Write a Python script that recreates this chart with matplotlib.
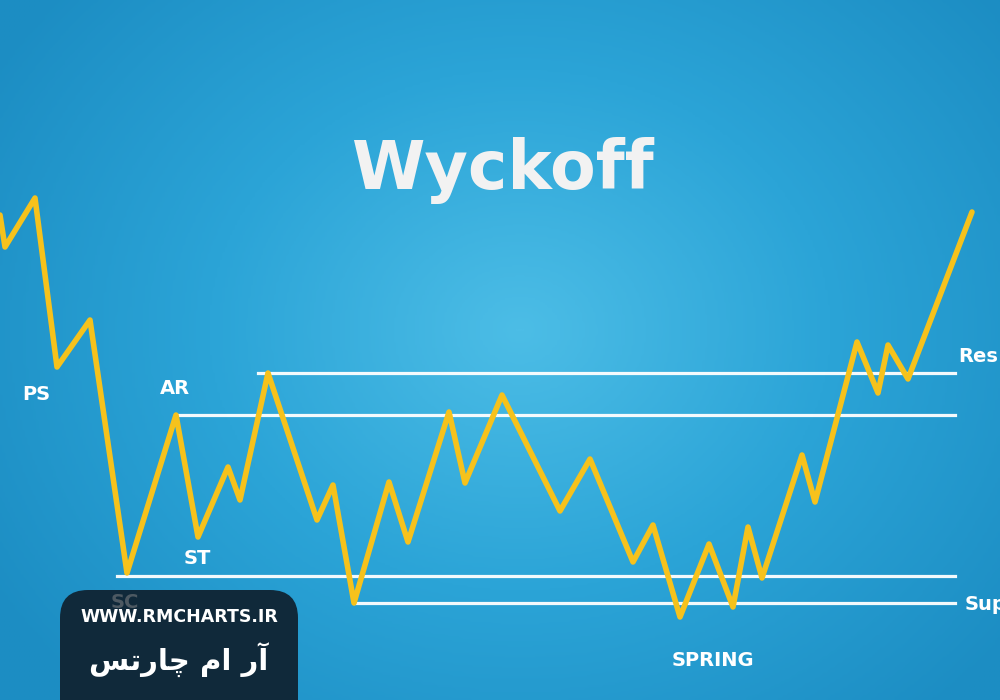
import numpy as np
import matplotlib.pyplot as plt
from matplotlib.patches import FancyBboxPatch
from matplotlib.colors import LinearSegmentedColormap

# price path (picture coordinates, y grows downward)
price_x = [0, 5, 35, 57, 90, 127, 176, 198, 228, 240, 268, 317, 333, 354, 389, 408,
           449, 465, 502, 560, 590, 633, 653, 680, 709, 733, 748, 762, 802, 815,
           857, 878, 888, 908, 972]
price_y = [215, 247, 198, 367, 320, 573, 415, 537, 467, 500, 373, 520, 485, 603, 482, 542,
           412, 483, 395, 511, 459, 562, 525, 617, 544, 607, 527, 578, 455, 502,
           342, 393, 345, 379, 212]

# horizontal levels: y, start x, end x
level_y = [373, 415, 576, 603]
level_x0 = [258, 178, 117, 355]
level_x1 = [955, 955, 955, 955]

labels = ['PS', 'AR', 'ST', 'SPRING']
label_x = [36, 175, 197, 713]
label_y = [395, 388, 558, 660]

fig = plt.figure(figsize=(10, 7), dpi=100)
ax = fig.add_axes([0, 0, 1, 1])
ax.set_xlim(0, 1000)
ax.set_ylim(700, 0)
ax.axis('off')

# radial background
gx, gy = np.meshgrid(np.linspace(0, 1000, 400), np.linspace(0, 700, 280))
r = np.sqrt(((gx - 520) / 620) ** 2 + ((gy - 330) / 520) ** 2)
cmap = LinearSegmentedColormap.from_list('bg', ['#4cbde6', '#2ba4d7', '#1c8dc3'])
ax.imshow(np.clip(r, 0, 1), cmap=cmap, extent=(0, 1000, 700, 0), aspect='auto', zorder=0)

for y, x0, x1 in zip(level_y, level_x0, level_x1):
    ax.plot([x0, x1], [y, y], color='white', lw=2.3, alpha=0.95, zorder=2)

ax.plot(price_x, price_y, color='#f6c21c', lw=4, solid_joinstyle='round',
        solid_capstyle='round', zorder=3)

ax.text(502, 170, 'Wyckoff', color='#f2f2f2', fontsize=48, fontweight='bold',
        ha='center', va='center', zorder=4)

for t, x, y in zip(labels, label_x, label_y):
    ax.text(x, y, t, color='white', fontsize=14, fontweight='bold',
            ha='center', va='center', zorder=4)
ax.text(958, 357, 'Res', color='white', fontsize=14, fontweight='bold',
        ha='left', va='center', zorder=4)
ax.text(965, 605, 'Sup', color='white', fontsize=14, fontweight='bold',
        ha='left', va='center', zorder=4)

# watermark box
box = FancyBboxPatch((60, 590), 238, 140, boxstyle='round,pad=0,rounding_size=28',
                     fc='#10293a', ec='none', zorder=5)
ax.add_patch(box)
ax.text(125, 602, 'SC', color='#8a8a8a', alpha=0.5, fontsize=14, fontweight='bold',
        ha='center', va='center', zorder=6)
ax.text(179, 617, 'WWW.RMCHARTS.IR', color='white', fontsize=12.5, fontweight='bold',
        ha='center', va='center', zorder=7)
fa_text = '\ufeb2\ufe97\ufead\ufe8e\ufb7c \ufee1\ufe8d \ufead\ufe81'
ax.text(179, 660, fa_text, color='white', fontsize=21, fontweight='bold',
        family=['DejaVu Sans'], ha='center', va='center', zorder=7)

fig.savefig('out.png', dpi=100)
